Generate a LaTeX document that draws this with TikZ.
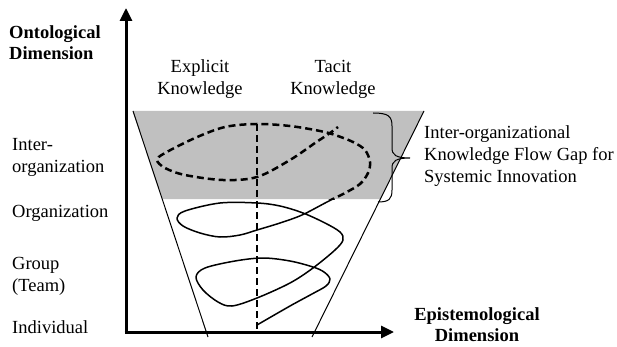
\documentclass[tikz,border=0pt]{standalone}
\usepackage{fontspec}
\setmainfont{Liberation Serif}
\usetikzlibrary{arrows.meta}
\definecolor{gapgray}{RGB}{192,192,192}
\begin{document}
\begin{tikzpicture}[x=1pt,y=-1pt,
  lbl/.style={font=\fontsize{18.5}{22}\selectfont, inner sep=0pt},
  blbl/.style={font=\fontsize{18.5}{21}\selectfont\bfseries, inner sep=0pt},
  axisline/.style={line width=3pt, -{Triangle[length=13pt,width=12pt]}},
  funnelline/.style={line width=1pt},
  spiralline/.style={line width=1.5pt, line join=round},
  dashline/.style={line width=2.5pt, dash pattern=on 7pt off 4pt}]
\useasboundingbox (0,0) rectangle (617,347);
% gray gap band
\fill[gapgray] (133,111) -- (424,111) -- (380,199) -- (162,199) -- cycle;
% funnel
\coordinate (fl1) at (133,111); \coordinate (fl2) at (208,337);
\coordinate (fr1) at (424,111); \coordinate (fr2) at (312,337);
\draw[funnelline] (fl1) -- (fl2);
\draw[funnelline] (fr1) -- (fr2);
% vertical dashed divider
\coordinate (dtop) at (257,124); \coordinate (dbot) at (257,331);
\draw[dashline] (dtop) -- (dbot);
% spiral
\def\spiralpath{plot[smooth, tension=0.55] coordinates {
 (257,325) (290,306) (312,294) (326,286) (330,279) (324,272) (313,267) (290,261)
 (263,258) (235,261) (205,268) (196,277) (203,290) (218,302) (232,306) (257,298)
 (290,283) (313,268) (335,250) (343,240) (340,232) (325,223) (303,213) (280,206)
 (257,203) (220,203) (185,211) (177,218) (183,226) (200,233) (220,237) (240,235)
 (257,230) (280,223) (302,215) (327,202) (345,193) (360,184) (368,173) (370,162)
 (365,150) (353,142) (335,135) (320,131) (290,126) (257,124) (225,127) (195,138)
 (165,153) (157,160) (165,168) (185,175) (223,180) (257,177) (290,160) (315,143)
 (330,133) (338,127)}}
\begin{scope}
 \clip (0,199) rectangle (617,347);
 \draw[spiralline] \spiralpath;
\end{scope}
\begin{scope}
 \clip (0,0) rectangle (617,199);
 \draw[dashline] \spiralpath;
\end{scope}
% axes
\coordinate (O) at (126,332);
\coordinate (ytip) at (126,8);
\coordinate (xtip) at (394,332);
\draw[axisline] (O) -- (ytip);
\draw[axisline] ([xshift=-1.5pt]O) -- (xtip);
% brace
\coordinate (bt) at (373,113); \coordinate (bb) at (378,202); \coordinate (btip) at (410,158);
\draw[line width=1pt] (bt) .. controls (388,113) and (392,116) .. (392,126) -- (392,148)
  .. controls (392,155) and (396,158) .. (btip)
  .. controls (396,158) and (392,161) .. (392,168) -- (392,190)
  .. controls (392,199) and (389,202) .. (bb);
% labels
\node[blbl, anchor=west, align=left] (ont) at (9,43) {Ontological\\Dimension};
\node[blbl, align=center] (epi) at (477,325) {Epistemological\\Dimension};
\node[lbl, align=center] (expl) at (200,79) {Explicit\\Knowledge};
\node[lbl, align=center] (tac) at (333,79) {Tacit\\Knowledge};
\node[lbl, anchor=west, align=left] (interorg) at (12,157) {Inter-\\organization};
\node[lbl, anchor=west] (org) at (12,213) {Organization};
\node[lbl, anchor=west, align=left] (grp) at (12,276) {Group\\(Team)};
\node[lbl, anchor=west] (ind) at (12,327) {Individual};
\node[lbl, anchor=west, align=left] (gap) at (424,156) {Inter-organizational\\Knowledge Flow Gap for\\Systemic Innovation};
\end{tikzpicture}
\end{document}
